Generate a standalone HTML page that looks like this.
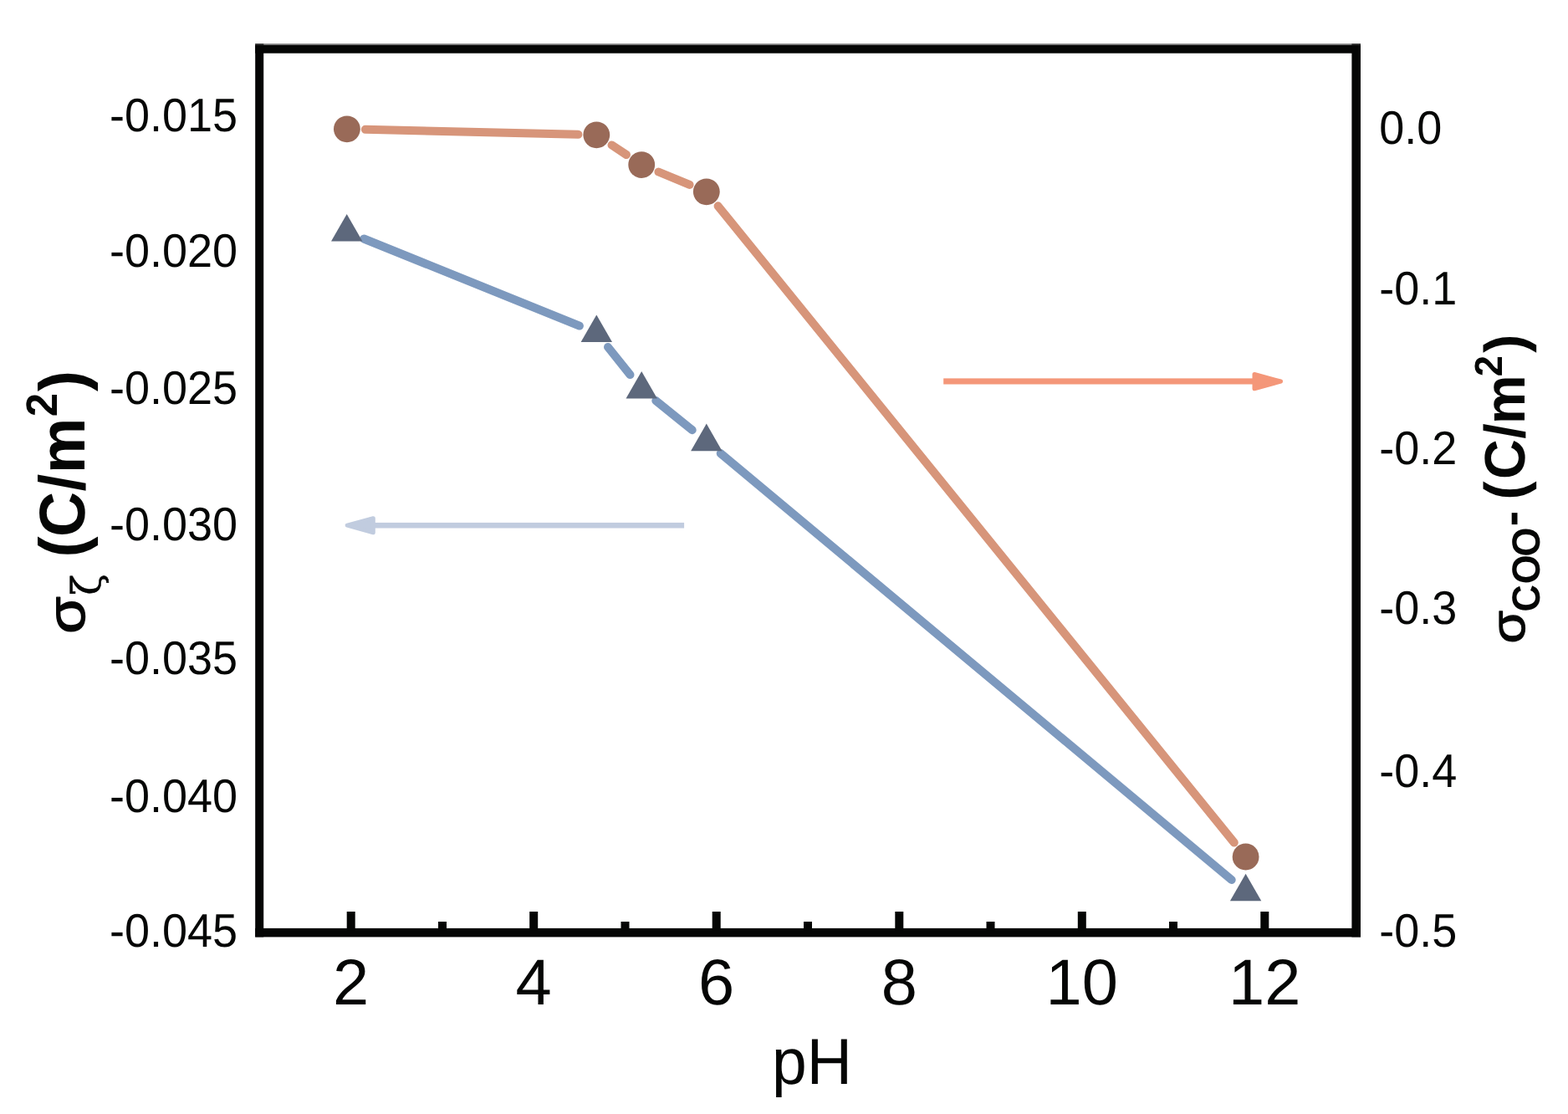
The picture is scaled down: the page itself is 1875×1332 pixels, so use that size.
<!DOCTYPE html>
<html lang="en"><head><meta charset="utf-8"><title>Surface charge density vs pH</title>
<style>
html,body{margin:0;padding:0;background:#fff;}
body{width:1875px;height:1332px;overflow:hidden;}
svg{display:block;}
text{font-family:"Liberation Sans",sans-serif;fill:#050605;text-rendering:geometricPrecision;}
.yl{font-size:54px;text-anchor:end;}
.yr{font-size:54px;text-anchor:start;}
.xl{font-size:75px;text-anchor:middle;}
.b{font-weight:bold;}
.z{font-family:"DejaVu Serif","Liberation Serif",serif;font-weight:normal;}
</style></head>
<body>
<svg width="1875" height="1332" viewBox="0 0 1875 1332">
<rect x="0" y="0" width="1875" height="1332" fill="#fff"/>

<g fill="#050605">
<rect x="305.2" y="52.1" width="1321.8" height="2" fill="#858585"/>
<rect x="305.2" y="52.1" width="10.1" height="2" fill="#3c3c3c"/><rect x="1616.4" y="52.1" width="10.6" height="2" fill="#3c3c3c"/>
<rect x="305.2" y="53.9" width="1321.8" height="9.8"/>
<rect x="305.2" y="1109.9" width="1321.8" height="10.5"/>
<rect x="305.2" y="53.9" width="10.0" height="1066.5"/>
<rect x="1616.4" y="53.9" width="10.6" height="1066.5"/>
<rect x="414.7" y="1090" width="10" height="22"/>
<rect x="633.2" y="1090" width="10" height="22"/>
<rect x="851.7" y="1090" width="10" height="22"/>
<rect x="1070.3" y="1090" width="10" height="22"/>
<rect x="1288.8" y="1090" width="10" height="22"/>
<rect x="1507.3" y="1090" width="10" height="22"/>
<rect x="524.0" y="1102" width="10" height="10"/>
<rect x="742.5" y="1102" width="10" height="10"/>
<rect x="961.0" y="1102" width="10" height="10"/>
<rect x="1179.5" y="1102" width="10" height="10"/>
<rect x="1398.0" y="1102" width="10" height="10"/>
</g>
<line x1="435.1" y1="285.5" x2="692.9" y2="389.6" stroke="#7D99BE" stroke-width="10" stroke-linecap="round"/>
<line x1="727.0" y1="415.0" x2="753.5" y2="448.1" stroke="#7D99BE" stroke-width="10" stroke-linecap="round"/>
<line x1="784.3" y1="479.1" x2="827.7" y2="514.2" stroke="#7D99BE" stroke-width="10" stroke-linecap="round"/>
<line x1="861.7" y1="542.1" x2="1472.7" y2="1052.0" stroke="#7D99BE" stroke-width="10" stroke-linecap="round"/>
<line x1="436.8" y1="154.8" x2="691.4" y2="160.8" stroke="#D7957A" stroke-width="10" stroke-linecap="round"/>
<line x1="731.5" y1="173.4" x2="749.0" y2="185.0" stroke="#D7957A" stroke-width="10" stroke-linecap="round"/>
<line x1="787.4" y1="205.5" x2="824.6" y2="220.9" stroke="#D7957A" stroke-width="10" stroke-linecap="round"/>
<line x1="858.6" y1="246.3" x2="1475.8" y2="1007.5" stroke="#D7957A" stroke-width="10" stroke-linecap="round"/>
<polygon points="414.7,255.9 433.4,288.5 396.0,288.5" fill="#5D687C"/>
<polygon points="713.3,376.4 732.0,409.0 694.6,409.0" fill="#5D687C"/>
<polygon points="767.2,443.9 785.9,476.5 748.5,476.5" fill="#5D687C"/>
<polygon points="844.8,506.6 863.5,539.2 826.1,539.2" fill="#5D687C"/>
<polygon points="1489.6,1044.7 1508.3,1077.3 1470.9,1077.3" fill="#5D687C"/>
<circle cx="414.9" cy="154.3" r="15.9" fill="#996A58"/>
<circle cx="713.3" cy="161.3" r="15.9" fill="#996A58"/>
<circle cx="767.2" cy="197.1" r="15.9" fill="#996A58"/>
<circle cx="844.8" cy="229.3" r="15.9" fill="#996A58"/>
<circle cx="1489.6" cy="1024.5" r="15.9" fill="#996A58"/>
<g fill="#F49779" stroke="#F49779" stroke-linejoin="round"><rect x="1128.2" y="452.4" width="372" height="7.1" stroke="none"/><polygon points="1500,447.5 1531.5,456 1500,464.8" stroke-width="5"/></g>
<g fill="#C1CCDF" stroke="#C1CCDF" stroke-linejoin="round"><rect x="446" y="624.9" width="372.1" height="6.6" stroke="none"/><polygon points="446.3,619.7 415.2,628.2 446.3,636.8" stroke-width="5"/></g>
<text class="yl" transform="translate(284.1,157.0) scale(1,1.04)">-0.015</text>
<text class="yl" transform="translate(284.1,318.9) scale(1,1.04)">-0.020</text>
<text class="yl" transform="translate(284.1,483.2) scale(1,1.04)">-0.025</text>
<text class="yl" transform="translate(284.1,645.7) scale(1,1.04)">-0.030</text>
<text class="yl" transform="translate(284.1,806.3) scale(1,1.04)">-0.035</text>
<text class="yl" transform="translate(284.1,971.1) scale(1,1.04)">-0.040</text>
<text class="yl" transform="translate(284.1,1131.8) scale(1,1.04)">-0.045</text>
<text class="yr" transform="translate(1649.3,172.1) scale(1,1.04)">0.0</text>
<text class="yr" transform="translate(1649.3,364.2) scale(1,1.04)">-0.1</text>
<text class="yr" transform="translate(1649.3,555.2) scale(1,1.04)">-0.2</text>
<text class="yr" transform="translate(1649.3,746.2) scale(1,1.04)">-0.3</text>
<text class="yr" transform="translate(1649.3,940.9) scale(1,1.04)">-0.4</text>
<text class="yr" transform="translate(1649.3,1131.8) scale(1,1.04)">-0.5</text>
<text class="xl" transform="translate(419.7,1201.2) scale(1.035,1.032)">2</text>
<text class="xl" transform="translate(638.2,1201.2) scale(1.035,1.032)">4</text>
<text class="xl" transform="translate(856.7,1201.2) scale(1.035,1.032)">6</text>
<text class="xl" transform="translate(1075.3,1201.2) scale(1.035,1.032)">8</text>
<text class="xl" transform="translate(1293.8,1201.2) scale(1.035,1.032)">10</text>
<text class="xl" transform="translate(1512.3,1201.2) scale(1.035,1.032)">12</text>
<text class="xl" transform="translate(971,1296) scale(1,1.035)">pH</text>
<g aria-label="σζ (C/m2)">
<text stroke="#050605" stroke-width="1.3" stroke-linejoin="round" font-size="63.00" transform="translate(101.27,757.75) rotate(-90) scale(1.1508,1)">σ</text>
<text class="z" stroke="#050605" stroke-width="0.6" stroke-linejoin="round" font-size="47.70" transform="translate(120.10,711.50) rotate(-90) scale(0.9591,1)">ζ</text>
<text class="b" font-size="75" transform="translate(101.1,800.0) rotate(-90) scale(1,1.03)"><tspan x="133.46 158.02 212.54 233.66" y="0">(C/m</tspan><tspan font-size="51" x="301.85" y="-32.48">2</tspan><tspan x="331.96" y="0">)</tspan></text>
</g>
<g aria-label="σCOO- (C/m2)">
<text stroke="#050605" stroke-width="1.1" stroke-linejoin="round" font-size="56.86" transform="translate(1823.43,769.59) rotate(-90) scale(1.1273,1)">σ</text>
<text class="b" font-size="45" transform="translate(1841.2,800.0) rotate(-90) scale(1,1.045)"><tspan x="68.45 101.82 134.62" y="0">COO</tspan><tspan font-size="55" x="170.72" y="-14.49">-</tspan></text>
<text class="b" font-size="66.3" transform="translate(1823.1,800.0) rotate(-90) scale(1,1.03)"><tspan x="202.57 226.97 275.39 292.79" y="0">(C/m</tspan><tspan font-size="45.3" x="349.87" y="-26.65">2</tspan><tspan x="378.20" y="0">)</tspan></text>
</g>
</svg>
</body></html>
